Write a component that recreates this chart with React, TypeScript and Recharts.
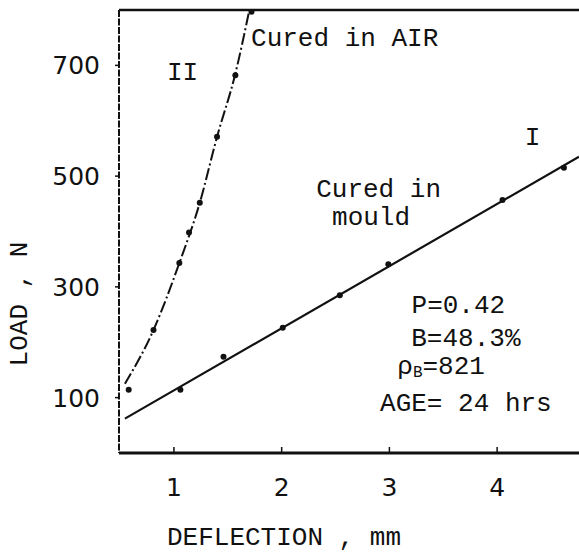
import React from 'react';
import {
  ComposedChart,
  Line,
  Scatter,
  XAxis,
  YAxis,
  ReferenceLine,
  ReferenceDot,
} from 'recharts';

// Deflection (mm) vs load (N)
const airDeflection = [0.58, 0.81, 1.05, 1.14, 1.24, 1.4, 1.57, 1.72];
const airLoad = [114, 222, 343, 398, 452, 571, 682, 797];

const mouldDeflection = [1.06, 1.46, 2.01, 2.54, 2.99, 4.05, 4.62];
const mouldLoad = [114, 174, 226, 285, 341, 457, 515];

// hand-drawn curves as traced on the sheet
const airCurveDeflection = [0.545, 0.81, 1.05, 1.24, 1.4, 1.57, 1.7];
const airCurveLoad = [125, 222, 343, 452, 571, 685, 800];
const mouldLineDeflection = [0.545, 4.76];
const mouldLineLoad = [62, 535];

const xTicks = [1, 2, 3, 4];
const yTicks = [100, 300, 500, 700];

const notes = [
  { x: 1.08, y: 686, text: 'II' },
  { x: 2.585, y: 748, text: 'Cured in AIR' },
  { x: 4.33, y: 569, text: 'I' },
  { x: 2.9, y: 475, text: 'Cured in' },
  { x: 2.83, y: 425, text: 'mould' },
  { x: 3.64, y: 265, text: 'P=0.42' },
  { x: 3.71, y: 206, text: 'B=48.3%' },
  { x: 3.48, y: 156, text: 'ρ', sub: 'B', tail: '=821' },
  { x: 3.71, y: 89, text: 'AGE= 24 hrs' },
];

const zip = (xs: number[], ys: number[]) => xs.map((x, i) => ({ x, y: ys[i] }));

const MONO = '"Liberation Mono", "DejaVu Sans Mono", monospace';
const SANS = '"DejaVu Sans", sans-serif';
const INK = '#111';

const Dot = (props: any) => <circle cx={props.cx} cy={props.cy} r={3} fill={INK} />;

const XTick = ({ x, y, payload }: any) => (
  <g>
    <line x1={x} x2={x} y1={y} y2={y - 6} stroke={INK} strokeWidth={1.5} />
    <text x={x} y={y + 34} textAnchor="middle" dominantBaseline="central" fontFamily={SANS} fontSize={25} fill={INK}>
      {payload.value}
    </text>
  </g>
);

const Note = ({ viewBox, text, sub, tail }: any) => {
  const cx = viewBox.x + (viewBox.width || 0) / 2;
  const cy = viewBox.y + (viewBox.height || 0) / 2;
  return (
    <text x={cx} y={cy} textAnchor="middle" dominantBaseline="central" fontFamily={MONO} fontSize={26} fill={INK}>
      {text}
      {sub && <tspan fontSize={16} dy={6}>{sub}</tspan>}
      {tail && <tspan dy={-6}>{tail}</tspan>}
    </text>
  );
};

const XTitle = ({ viewBox }: any) => (
  <text x={viewBox.x + 165} y={viewBox.y + 85} textAnchor="middle" dominantBaseline="central" fontFamily={MONO} fontSize={26} fill={INK}>
    DEFLECTION , mm
  </text>
);

const YTitle = ({ viewBox }: any) => {
  const cx = viewBox.x + 20;
  const cy = viewBox.y + 294;
  return (
    <text x={cx} y={cy} transform={`rotate(-90, ${cx}, ${cy})`} textAnchor="middle" dominantBaseline="central" fontFamily={MONO} fontSize={26} fill={INK}>
      LOAD , N
    </text>
  );
};

export default function App() {
  return (
    <div style={{ position: 'absolute', left: 0, top: 0, width: 579, height: 557, background: '#fff' }}>
      <ComposedChart width={579} height={557} margin={{ top: 10, right: 0, bottom: 0, left: 0 }}>
        <XAxis
          type="number"
          dataKey="x"
          domain={[0.49, 4.76]}
          allowDataOverflow
          ticks={xTicks}
          height={104}
          tickSize={0}
          tickMargin={0}
          tickLine={false}
          tick={<XTick />}
          axisLine={{ stroke: INK, strokeWidth: 3 }}
          label={(p: any) => <XTitle {...p} />}
        />
        <YAxis
          type="number"
          dataKey="y"
          domain={[0, 800]}
          allowDataOverflow
          ticks={yTicks}
          width={119}
          tickSize={4}
          tickMargin={15}
          tickLine={{ stroke: INK, strokeWidth: 1.5 }}
          tick={{ fill: INK, fontFamily: SANS, fontSize: 25 }}
          axisLine={{ stroke: INK, strokeWidth: 2, strokeDasharray: '7 1.5' }}
          label={(p: any) => <YTitle {...p} />}
        />
        <ReferenceLine y={800} stroke={INK} strokeWidth={2.5} />
        <Line
          data={zip(mouldLineDeflection, mouldLineLoad)}
          dataKey="y"
          type="linear"
          stroke={INK}
          strokeWidth={2.2}
          dot={false}
          isAnimationActive={false}
        />
        <Line
          data={zip(airCurveDeflection, airCurveLoad)}
          dataKey="y"
          type="monotone"
          stroke={INK}
          strokeWidth={2}
          strokeDasharray="12 3 2 3"
          dot={false}
          isAnimationActive={false}
        />
        <Scatter data={zip(mouldDeflection, mouldLoad)} dataKey="y" shape={<Dot />} isAnimationActive={false} />
        <Scatter data={zip(airDeflection, airLoad)} dataKey="y" shape={<Dot />} isAnimationActive={false} />
        {notes.map((n, i) => (
          <ReferenceDot
            key={i}
            x={n.x}
            y={n.y}
            r={1}
            fill="none"
            stroke="none"
            label={(p: any) => <Note {...p} text={n.text} sub={n.sub} tail={n.tail} />}
          />
        ))}
      </ComposedChart>
    </div>
  );
}
